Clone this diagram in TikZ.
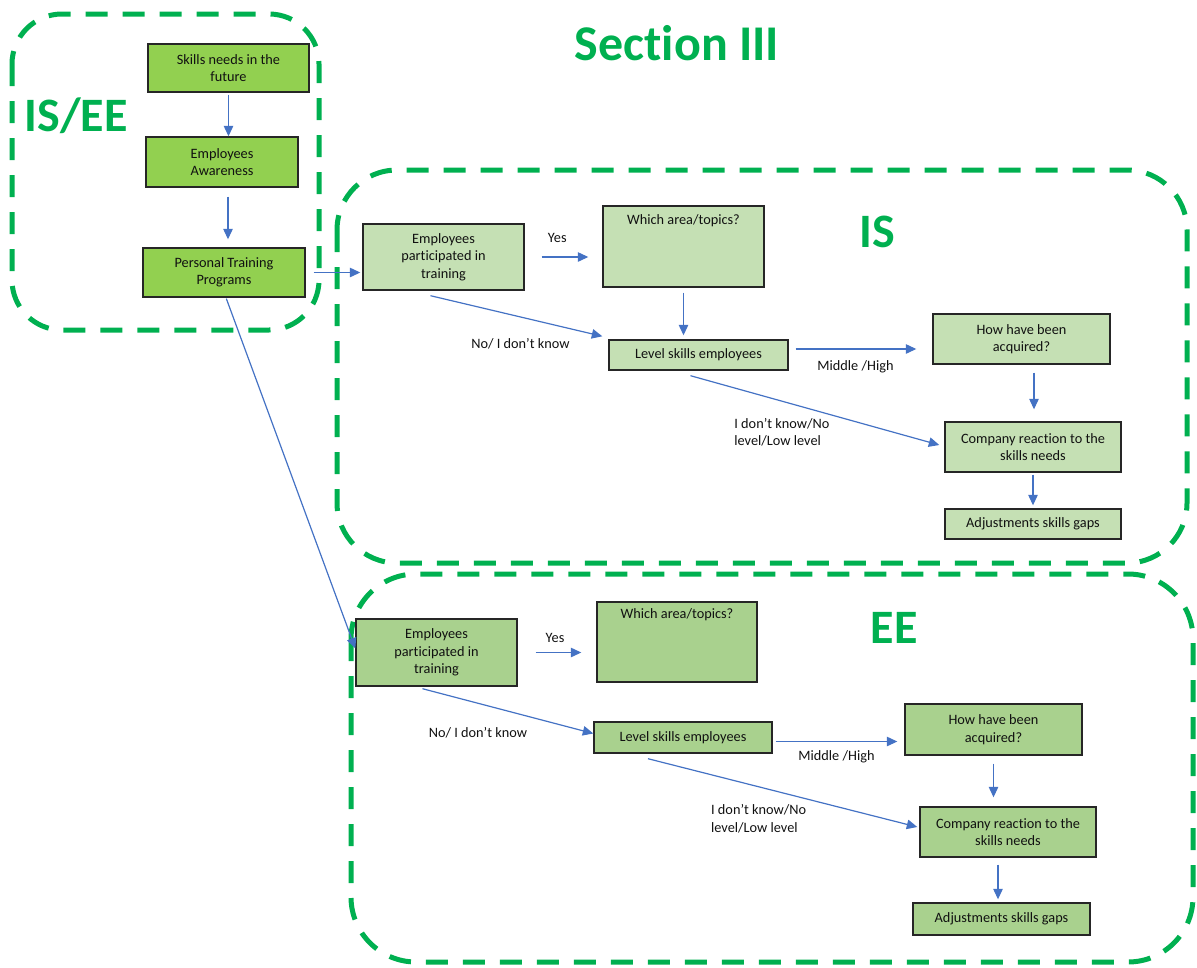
\documentclass[tikz,border=0pt]{standalone}
\usepackage{fontspec}
\setmainfont{Carlito}[Ligatures={NoCommon}]
\usetikzlibrary{arrows.meta,calc}
\definecolor{gline}{HTML}{00B050}
\definecolor{fillA}{HTML}{92D050}
\definecolor{fillB}{HTML}{C5E0B4}
\definecolor{fillC}{HTML}{A9D18E}
\definecolor{arrblue}{HTML}{4472C4}
\definecolor{boxline}{HTML}{262626}
\definecolor{txt}{HTML}{111111}
\begin{document}
\begin{tikzpicture}[x=1pt,y=-1pt,
  gdash/.style={draw=gline, line width=5pt, dash pattern=on 22pt off 15pt},
  box/.style={draw=boxline, line width=1.4pt, align=center, inner sep=2pt,
    font=\fontsize{14.3}{17.5}\selectfont, text=txt},
  boxA/.style={box, fill=fillA},
  boxB/.style={box, fill=fillB},
  boxC/.style={box, fill=fillC},
  arr/.style={draw=arrblue, line width=1.2pt, -{Triangle[length=10.5pt,width=9.5pt]}},
  lbl/.style={font=\fontsize{14.3}{17.5}\selectfont, text=txt, align=left, inner sep=0pt},
  ttl/.style={font=\fontsize{50}{60}\selectfont\bfseries, text=gline, inner sep=0pt},
  sz/.style 2 args={minimum width=#1pt, minimum height=#2pt}
]
\useasboundingbox (0,0) rectangle (1197,967);

% dashed group frames
\draw[gdash, rounded corners=50pt] (12,14) rectangle (319,330);
\draw[gdash, rounded corners=60pt] (337,170) rectangle (1187,563);
\draw[gdash, rounded corners=65pt] (351,574) rectangle (1193,962);

% titles
\node[ttl] (sec) at (677,43) {Section III};
\node[ttl, font=\fontsize{48}{58}\selectfont\bfseries] (tisee) at (76,116) {IS/EE};
\node[ttl, font=\fontsize{48}{58}\selectfont\bfseries] (tis) at (877,232) {IS};
\node[ttl, font=\fontsize{48}{58}\selectfont\bfseries] (tee) at (894,628) {EE};

% IS/EE nodes
\node[boxA, sz={161}{48}] (sk) at (228.5,68) {Skills needs in the\\future};
\node[boxA, sz={152}{50}] (aw) at (222,162) {Employees\\Awareness};
\node[boxA, sz={162}{49}] (ptp) at (224,272.5) {Personal Training\\Programs};

% IS nodes
\node[boxB, sz={161}{66}] (ep1) at (443.5,257) {Employees\\participated in\\training};
\node[boxB, sz={161}{81}, label={[lbl, anchor=north, yshift=-9pt]north:Which area/topics?}] (wa1) at (683.5,246.5) {};
\node[boxB, sz={179}{30}] (lv1) at (698.5,355) {Level skills employees};
\node[boxB, sz={177}{50}] (hw1) at (1021.5,339) {How have been\\acquired?};
\node[boxB, sz={176}{50}] (cr1) at (1033,447) {Company reaction to the\\skills needs};
\node[boxB, sz={176}{30}] (ad1) at (1033,524) {Adjustments skills gaps};

% EE nodes
\node[boxC, sz={161}{67}] (ep2) at (436.5,652.5) {Employees\\participated in\\training};
\node[boxC, sz={160}{80}, label={[lbl, anchor=north, yshift=-7pt]north:Which area/topics?}] (wa2) at (677,642) {};
\node[boxC, sz={178}{31}] (lv2) at (683,737.5) {Level skills employees};
\node[boxC, sz={177}{51}] (hw2) at (993.5,729.5) {How have been\\acquired?};
\node[boxC, sz={176}{50}] (cr2) at (1008,832) {Company reaction to the\\skills needs};
\node[boxC, sz={177}{32}] (ad2) at (1001.5,919) {Adjustments skills gaps};

% IS/EE connectors
\draw[arr, shorten <=2pt] (sk.south) -- (sk.south |- aw.north);
\draw[arr, shorten <=9pt, shorten >=8pt] ($(aw.south)+(6,0)$) -- ($(aw.south |- ptp.north)+(6,0)$);
\draw[arr, shorten <=8pt, shorten >=2pt] (ptp.east) -- (ptp.east -| ep1.west);
\draw[arr, shorten <=1pt] ($(ptp.south)+(2,0)$) -- ($(ep2.west)+(0,-4)$);

% IS connectors
\draw[arr, shorten <=17pt, shorten >=14pt] (ep1.east) -- (ep1.east -| wa1.west)
  node[lbl, pos=.42, yshift=19pt] (y1) {Yes};
\draw[arr, shorten <=5pt, shorten >=4pt] (wa1.south) -- (wa1.south |- lv1.north);
\draw[arr] ($(ep1.south)+(-13,5)$) -- ($(lv1.north west)+(-6,-3)$)
  node[lbl, pos=.5, xshift=4pt, yshift=-28pt] (n1) {No/ I don’t know};
\draw[arr, shorten <=7pt, shorten >=16pt] ($(lv1.east)+(0,-6)$) -- ($(lv1.east -| hw1.west)+(0,-6)$)
  node[lbl, pos=.5, xshift=-5pt, yshift=-18pt] (m1) {Middle /High};
\draw[arr, shorten <=8pt, shorten >=12pt] ($(cr1.north |- hw1.south)+(1,0)$) -- ($(cr1.north)+(1,0)$);
\draw[arr] ($(lv1.south)+(-8,5)$) -- ($(cr1.west)+(-5,-2)$)
  node[lbl, pos=.5, xshift=-33pt, yshift=-22pt] (d1) {I don’t know/No\\level/Low level};
\draw[arr, shorten <=2pt, shorten >=3pt] (cr1.south) -- (ad1.north);

% EE connectors
\draw[arr, shorten <=18pt, shorten >=15pt] (ep2.east) -- (ep2.east -| wa2.west)
  node[lbl, pos=.475, yshift=15pt] (y2) {Yes};
\draw[arr] ($(ep2.south)+(-14,2)$) -- ($(lv2.west)+(0,-4)$)
  node[lbl, pos=.5, xshift=-30pt, yshift=-22pt] (n2) {No/ I don’t know};
\draw[arr, shorten <=3pt, shorten >=7pt] ($(lv2.east)+(0,4)$) -- ($(lv2.east -| hw2.west)+(0,4)$)
  node[lbl, pos=.5, xshift=-2pt, yshift=-15pt] (m2) {Middle /High};
\draw[arr, shorten <=8pt, shorten >=9pt] (hw2.south) -- (hw2.south |- cr2.north);
\draw[arr] ($(lv2.south)+(-35,5)$) -- ($(cr2.west)+(-2,-5)$)
  node[lbl, pos=.5, xshift=-24pt, yshift=-26pt] (d2) {I don’t know/No\\level/Low level};
\draw[arr, shorten <=7pt, shorten >=3pt] ($(cr2.south)+(-10,0)$) -- ($(cr2.south |- ad2.north)+(-10,0)$);
\end{tikzpicture}
\end{document}
